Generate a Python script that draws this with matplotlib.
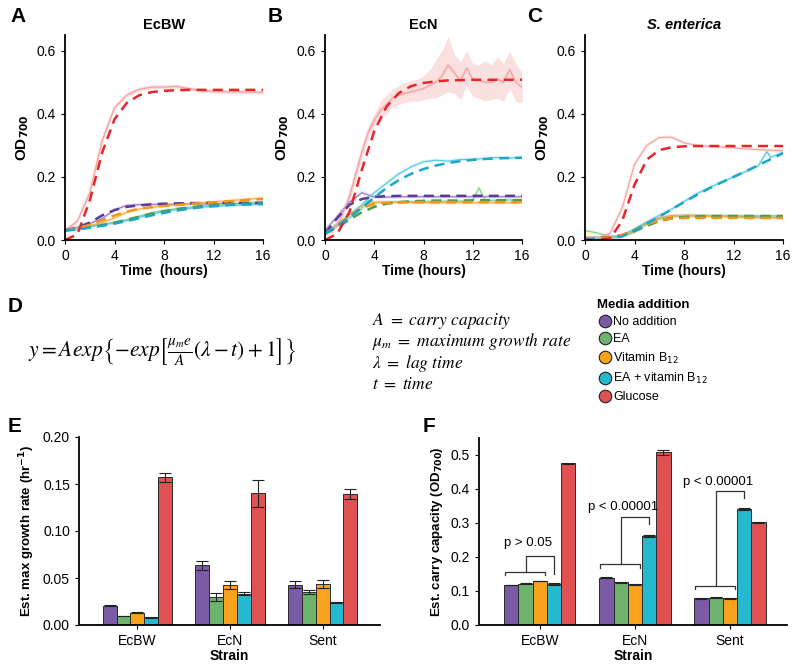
import matplotlib
matplotlib.use("Agg")
import matplotlib.pyplot as plt
from matplotlib.lines import Line2D

plt.rcParams['font.family'] = ['Liberation Sans', 'DejaVu Sans']

# --- data ---------------------------------------------------------------
conditions = ["No addition", "EA", "Vitamin B$_{12}$", "EA + vitamin B$_{12}$", "Glucose"]
strains = ["EcBW", "EcN", "Sent"]

hours = list(range(17))
half_hours = [i * 0.5 for i in range(33)]

# EcBW: fitted (dashed) and observed (solid)
bw_none_fit = [0.030, 0.040, 0.055, 0.078, 0.095, 0.105, 0.110, 0.113, 0.115, 0.116, 0.117, 0.117, 0.118, 0.118, 0.118, 0.118, 0.118]
bw_ea_fit = [0.030, 0.035, 0.040, 0.047, 0.055, 0.064, 0.074, 0.083, 0.091, 0.098, 0.103, 0.107, 0.110, 0.113, 0.115, 0.116, 0.117]
bw_b12_fit = [0.030, 0.038, 0.048, 0.062, 0.078, 0.090, 0.099, 0.104, 0.108, 0.111, 0.114, 0.117, 0.119, 0.122, 0.125, 0.128, 0.130]
bw_eab12_fit = [0.030, 0.034, 0.039, 0.045, 0.052, 0.060, 0.069, 0.078, 0.086, 0.093, 0.099, 0.104, 0.107, 0.110, 0.112, 0.113, 0.114]
bw_glc_fit = [0.000, 0.018, 0.125, 0.277, 0.383, 0.435, 0.459, 0.469, 0.473, 0.475, 0.476, 0.476, 0.476, 0.476, 0.476, 0.476, 0.476]

bw_none_obs = [0.032, 0.040, 0.052, 0.068, 0.095, 0.110, 0.112, 0.113, 0.113, 0.113, 0.114, 0.114, 0.115, 0.116, 0.116, 0.117, 0.118]
bw_ea_obs = [0.030, 0.038, 0.045, 0.050, 0.056, 0.064, 0.075, 0.087, 0.094, 0.099, 0.103, 0.107, 0.110, 0.113, 0.115, 0.117, 0.119]
bw_b12_obs = [0.030, 0.036, 0.045, 0.055, 0.070, 0.088, 0.098, 0.104, 0.108, 0.112, 0.115, 0.118, 0.121, 0.124, 0.127, 0.130, 0.133]
bw_eab12_obs = [0.030, 0.036, 0.042, 0.048, 0.054, 0.062, 0.072, 0.082, 0.090, 0.096, 0.100, 0.104, 0.107, 0.109, 0.111, 0.112, 0.113]
bw_glc_obs = [0.030, 0.060, 0.150, 0.315, 0.420, 0.460, 0.478, 0.485, 0.485, 0.487, 0.480, 0.474, 0.471, 0.470, 0.470, 0.469, 0.468]

# EcN
n_none_fit = [0.020, 0.070, 0.112, 0.130, 0.137, 0.139, 0.140, 0.140, 0.140, 0.140, 0.140, 0.140, 0.140, 0.140, 0.140, 0.140, 0.140]
n_ea_fit = [0.020, 0.040, 0.065, 0.088, 0.105, 0.115, 0.120, 0.123, 0.124, 0.125, 0.125, 0.125, 0.126, 0.126, 0.126, 0.126, 0.126]
n_b12_fit = [0.020, 0.045, 0.078, 0.102, 0.114, 0.118, 0.119, 0.120, 0.120, 0.120, 0.120, 0.120, 0.120, 0.120, 0.120, 0.120, 0.120]
n_eab12_fit = [0.020, 0.045, 0.072, 0.102, 0.135, 0.165, 0.190, 0.210, 0.225, 0.236, 0.244, 0.250, 0.254, 0.257, 0.259, 0.260, 0.261]
n_glc_fit = [0.000, 0.020, 0.090, 0.224, 0.345, 0.423, 0.466, 0.488, 0.498, 0.503, 0.506, 0.507, 0.508, 0.508, 0.508, 0.508, 0.508]

n_none_obs = [0.030, 0.075, 0.120, 0.150, 0.136, 0.136, 0.137, 0.137, 0.137, 0.137, 0.137, 0.137, 0.137, 0.137, 0.137, 0.137, 0.137]
n_ea_t = [0, 1, 2, 3, 3.5, 4, 5, 6, 8, 10, 12, 12.5, 13, 14, 16]
n_ea_obs = [0.020, 0.045, 0.070, 0.100, 0.125, 0.118, 0.120, 0.121, 0.122, 0.123, 0.124, 0.165, 0.125, 0.126, 0.128]
n_b12_obs = [0.020, 0.050, 0.080, 0.108, 0.120, 0.120, 0.119, 0.118, 0.118, 0.118, 0.118, 0.118, 0.118, 0.118, 0.118, 0.118, 0.118]
n_eab12_obs = [0.020, 0.050, 0.080, 0.112, 0.150, 0.180, 0.210, 0.232, 0.248, 0.253, 0.250, 0.255, 0.256, 0.258, 0.262, 0.260, 0.262]
n_glc_obs = [0.02, 0.03, 0.05, 0.09, 0.14, 0.21, 0.28, 0.34, 0.38, 0.41, 0.43, 0.45, 0.46, 0.465, 0.47, 0.475, 0.48,
             0.49, 0.50, 0.52, 0.555, 0.53, 0.505, 0.545, 0.51, 0.505, 0.50, 0.50, 0.51, 0.50, 0.54, 0.50, 0.485]
n_glc_hi = [0.03, 0.04, 0.06, 0.10, 0.155, 0.23, 0.30, 0.36, 0.40, 0.44, 0.46, 0.48, 0.49, 0.50, 0.505, 0.51, 0.52,
            0.54, 0.57, 0.60, 0.645, 0.59, 0.565, 0.60, 0.56, 0.555, 0.57, 0.555, 0.58, 0.56, 0.60, 0.56, 0.53]
n_glc_lo = [0.01, 0.02, 0.04, 0.08, 0.125, 0.19, 0.26, 0.32, 0.36, 0.385, 0.40, 0.42, 0.43, 0.435, 0.44, 0.44, 0.445,
            0.45, 0.45, 0.46, 0.47, 0.465, 0.445, 0.49, 0.455, 0.45, 0.44, 0.445, 0.45, 0.44, 0.48, 0.44, 0.435]

# S. enterica
s_none_fit = [0.005, 0.006, 0.008, 0.015, 0.030, 0.048, 0.062, 0.069, 0.072, 0.073, 0.073, 0.073, 0.073, 0.073, 0.073, 0.073, 0.073]
s_ea_fit = [0.005, 0.006, 0.008, 0.014, 0.028, 0.045, 0.060, 0.069, 0.073, 0.075, 0.076, 0.076, 0.076, 0.076, 0.076, 0.076, 0.076]
s_b12_fit = [0.005, 0.006, 0.008, 0.016, 0.032, 0.050, 0.062, 0.068, 0.070, 0.070, 0.070, 0.070, 0.070, 0.070, 0.070, 0.070, 0.070]
s_eab12_fit = [0.002, 0.003, 0.005, 0.012, 0.030, 0.052, 0.074, 0.097, 0.120, 0.142, 0.163, 0.182, 0.200, 0.218, 0.237, 0.256, 0.275]
s_glc_fit = [0.000, 0.000, 0.004, 0.060, 0.175, 0.255, 0.285, 0.294, 0.297, 0.298, 0.298, 0.298, 0.298, 0.298, 0.298, 0.298, 0.298]

s_none_obs = [0.008, 0.008, 0.008, 0.012, 0.030, 0.055, 0.070, 0.077, 0.078, 0.078, 0.077, 0.076, 0.075, 0.074, 0.073, 0.072, 0.072]
s_ea_obs = [0.030, 0.022, 0.012, 0.010, 0.025, 0.050, 0.066, 0.074, 0.077, 0.077, 0.077, 0.077, 0.077, 0.077, 0.077, 0.077, 0.077]
s_b12_obs = [0.008, 0.008, 0.008, 0.012, 0.032, 0.056, 0.070, 0.076, 0.077, 0.076, 0.075, 0.074, 0.073, 0.072, 0.071, 0.070, 0.070]
s_eab12_t = [0, 1, 2, 3, 4, 5, 6, 7, 8, 9, 10, 11, 12, 13, 14, 14.7, 15, 16]
s_eab12_obs = [0.005, 0.005, 0.006, 0.015, 0.035, 0.057, 0.078, 0.098, 0.122, 0.146, 0.165, 0.183, 0.200, 0.217, 0.235, 0.280, 0.262, 0.278]
s_glc_obs = [0.005, 0.006, 0.020, 0.100, 0.240, 0.300, 0.325, 0.326, 0.308, 0.300, 0.297, 0.295, 0.292, 0.289, 0.287, 0.285, 0.283]

# E: estimated max growth rate, F: estimated carry capacity (per strain, one value per condition)
mu_ecbw = [0.0205, 0.0097, 0.0131, 0.0082, 0.1570]
mu_ecbw_err = [0.0008, 0.0004, 0.0004, 0.0004, 0.0050]
mu_ecn = [0.0635, 0.0300, 0.0425, 0.0335, 0.1400]
mu_ecn_err = [0.0050, 0.0040, 0.0040, 0.0015, 0.0140]
mu_sent = [0.0428, 0.0350, 0.0435, 0.0240, 0.1395]
mu_sent_err = [0.0035, 0.0020, 0.0040, 0.0003, 0.0050]

cap_ecbw = [0.118, 0.122, 0.129, 0.121, 0.476]
cap_ecbw_err = [0.001, 0.001, 0.001, 0.003, 0.001]
cap_ecn = [0.139, 0.126, 0.120, 0.262, 0.508]
cap_ecn_err = [0.001, 0.001, 0.001, 0.002, 0.007]
cap_sent = [0.078, 0.080, 0.078, 0.341, 0.302]
cap_sent_err = [0.001, 0.001, 0.001, 0.003, 0.001]

# --- style --------------------------------------------------------------
bar_cols = ['#7b5aa6', '#6db36d', '#f9a21b', '#25b9cf', '#e05252']
fit_cols = ['#5a3a9a', '#46a04c', '#f7941d', '#1ca7c9', '#e8262a']
obs_cols = ['#9c7fca', '#8fcf8f', '#fbb03b', '#5ccbe0', '#f4a3a3']

W, H = 800, 671
fig = plt.figure(figsize=(8, 6.71), dpi=100)


def px_axes(x0, y0, x1, y1):
    return fig.add_axes([x0 / W, 1 - y1 / H, (x1 - x0) / W, (y1 - y0) / H])


def clean(ax):
    for s in ['top', 'right']:
        ax.spines[s].set_visible(False)
    for s in ['left', 'bottom']:
        ax.spines[s].set_linewidth(1.3)
    ax.tick_params(labelsize=10, length=3, width=0.8, colors='black')


def growth_panel(ax, obs_t, obs, fits, title, xlabel, italic=False):
    for k in range(5):
        ax.plot(obs_t[k], obs[k], color=obs_cols[k], lw=2.6, alpha=0.18)
        ax.plot(obs_t[k], obs[k], color=obs_cols[k], lw=0.9)
    for k in range(5):
        ax.plot(hours, fits[k], color=fit_cols[k], lw=1.8, ls=(0, (4, 2.5)))
    ax.set_xlim(0, 16)
    ax.set_ylim(0, 0.65)
    ax.set_xticks([0, 4, 8, 12, 16])
    ax.set_yticks([0, 0.2, 0.4, 0.6])
    ax.set_yticklabels(['0.0', '0.2', '0.4', '0.6'])
    ax.set_xlabel(xlabel, fontweight='bold', fontsize=10, labelpad=1)
    ax.set_ylabel(r'OD$_{\mathbf{700}}$', fontweight='bold', fontsize=11)
    ax.set_title(title, fontweight='bold', fontsize=10.5, pad=4,
                 fontstyle='italic' if italic else 'normal')
    clean(ax)


axA = px_axes(65, 35, 263, 240)
axA.fill_between(hours, [v - 0.006 for v in bw_glc_obs], [v + 0.006 for v in bw_glc_obs],
                 color=obs_cols[4], alpha=0.25, lw=0)
growth_panel(axA, [hours] * 5,
             [bw_none_obs, bw_ea_obs, bw_b12_obs, bw_eab12_obs, bw_glc_obs],
             [bw_none_fit, bw_ea_fit, bw_b12_fit, bw_eab12_fit, bw_glc_fit],
             'EcBW', 'Time  (hours)')

axB = px_axes(325, 35, 522, 240)
axB.fill_between(half_hours, n_glc_lo, n_glc_hi, color='#f8c8c8', alpha=0.55, lw=0)
growth_panel(axB, [hours, n_ea_t, hours, hours, half_hours],
             [n_none_obs, n_ea_obs, n_b12_obs, n_eab12_obs, n_glc_obs],
             [n_none_fit, n_ea_fit, n_b12_fit, n_eab12_fit, n_glc_fit],
             'EcN', 'Time (hours)')

axC = px_axes(585, 35, 783, 240)
growth_panel(axC, [hours, hours, hours, s_eab12_t, hours],
             [s_none_obs, s_ea_obs, s_b12_obs, s_eab12_obs, s_glc_obs],
             [s_none_fit, s_ea_fit, s_b12_fit, s_eab12_fit, s_glc_fit],
             'S. enterica', 'Time (hours)', italic=True)

# --- panel D: model equation and legend --------------------------------
fig.text(28 / W, 1 - 352 / H,
         r'$y = Aexp\left\{-exp\left[\frac{\mu_m e}{A}(\lambda - t) + 1\right]\right\}$',
         fontsize=15.5, math_fontfamily='stix', va='center', ha='left')
defs = [r'$A\ =\ carry\ capacity$', r'$\mu_m\ =\ maximum\ growth\ rate$',
        r'$\lambda\ =\ lag\ time$', r'$t\ =\ time$']
for i, d in enumerate(defs):
    fig.text(372 / W, 1 - (321 + 21 * i) / H, d, fontsize=12.5,
             math_fontfamily='stix', va='center', ha='left')

handles = [Line2D([], [], marker='o', ls='none', markersize=9, markerfacecolor=c,
                  markeredgecolor='#222222', markeredgewidth=0.8) for c in bar_cols]
leg = fig.legend(handles, conditions, loc='upper left', bbox_to_anchor=(592 / W, 1 - 294 / H),
                 frameon=False, fontsize=9, title='Media addition', handletextpad=0.1,
                 labelspacing=0.42, handlelength=1.2, borderaxespad=0)
leg.get_title().set_fontweight('bold')
leg.get_title().set_fontsize(9.5)
leg._legend_box.align = 'left'

# --- panels E and F: bar charts ----------------------------------------
offsets = [-0.3, -0.15, 0.0, 0.15, 0.3]
bar_w = 0.15


def bar_panel(ax, groups, errs, ylim, yticks, ylabels, ylabel, xlim):
    for g, (vals, err) in enumerate(zip(groups, errs)):
        xs = [g + 1 + o for o in offsets]
        ax.bar(xs, vals, width=bar_w, color=bar_cols, edgecolor='#2a2a2a', linewidth=0.7, zorder=2)
        ax.errorbar(xs, vals, yerr=err, fmt='none', ecolor='#222222', elinewidth=0.8,
                    capsize=4, capthick=0.8, zorder=3)
    ax.set_xlim(*xlim)
    ax.set_ylim(*ylim)
    ax.set_xticks([1, 2, 3])
    ax.set_xticklabels(strains)
    ax.set_yticks(yticks)
    ax.set_yticklabels(ylabels)
    ax.set_xlabel('Strain', fontweight='bold', fontsize=10, labelpad=1)
    ax.set_ylabel(ylabel, fontweight='bold', fontsize=9.5)
    clean(ax)


axE = px_axes(79, 437, 380, 625)
bar_panel(axE, [mu_ecbw, mu_ecn, mu_sent], [mu_ecbw_err, mu_ecn_err, mu_sent_err],
          (0, 0.20), [0, 0.05, 0.10, 0.15, 0.20], ['0.00', '0.05', '0.10', '0.15', '0.20'],
          r'Est. max growth rate (hr$^{\mathbf{-1}}$)', (0.37, 3.62))

axF = px_axes(479, 438, 787, 625)
bar_panel(axF, [cap_ecbw, cap_ecn, cap_sent], [cap_ecbw_err, cap_ecn_err, cap_sent_err],
          (0, 0.55), [0, 0.1, 0.2, 0.3, 0.4, 0.5], ['0.0', '0.1', '0.2', '0.3', '0.4', '0.5'],
          r'Est. carry capacity (OD$_{\mathbf{700}}$)', (0.36, 3.6))

# significance brackets: group, low level, top level, right end, label y, label
brackets = [(1, 0.157, 0.204, 0.150, 0.240, 'p > 0.05'),
            (2, 0.179, 0.317, 0.297, 0.346, 'p < 0.00001'),
            (3, 0.116, 0.394, 0.375, 0.422, 'p < 0.00001')]
for g, low, top, rend, ty, lab in brackets:
    x0, x1 = g + offsets[0] - 0.07, g + offsets[2] + 0.05
    xm, xr = g + offsets[1] + 0.005, g + offsets[3]
    kw = dict(color='#333333', lw=0.9)
    axF.plot([x0, x0, x1, x1], [low - 0.01, low, low, low - 0.01], **kw)
    axF.plot([xm, xm, xr, xr], [low, top, top, rend], **kw)
    axF.text(xm + 0.02, ty, lab, ha='center', va='center', fontsize=9.5)

# panel letters
for lab, x, y in [('A', 10, 17), ('B', 268, 17), ('C', 527, 17), ('D', 8, 307),
                  ('E', 8, 427), ('F', 423, 427)]:
    fig.text(x / W, 1 - y / H, lab, fontsize=15, fontweight='bold', va='center', ha='left')

fig.savefig('out.png', dpi=100)
